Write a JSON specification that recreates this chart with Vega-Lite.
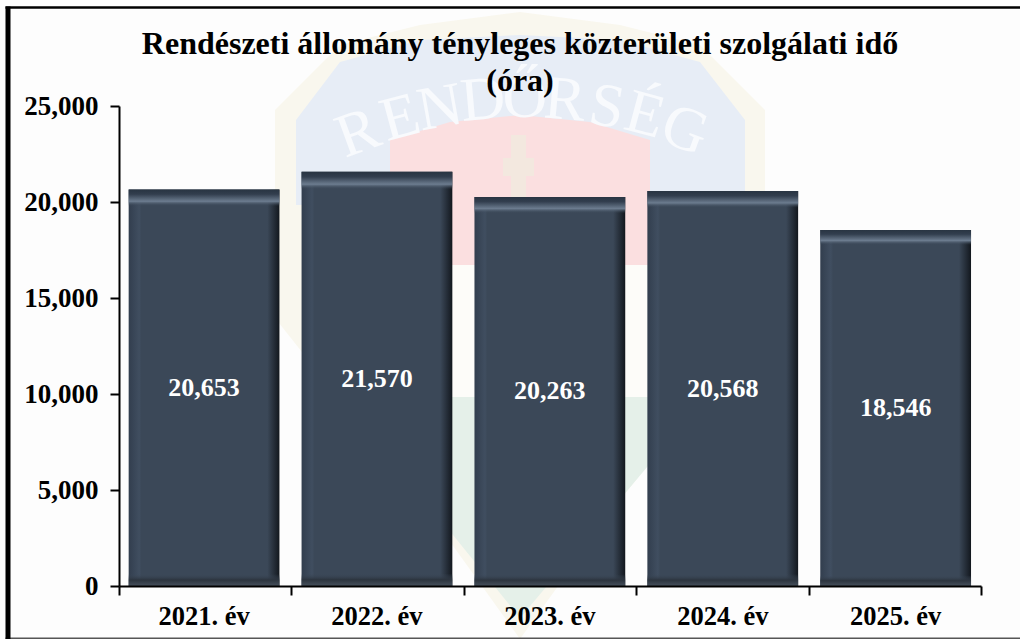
{
"$schema":"https://vega.github.io/schema/vega-lite/v6.json",
"width":1020,"height":639,
"autosize":"none","padding":0,
"background":"#fdfdfd",
"config":{"view":{"stroke":null},"font":"Liberation Serif"},
"title":{"text":["Rendészeti állomány tényleges közterületi szolgálati idő","(óra)"],"font":"Liberation Serif","fontWeight":"bold","fontSize":32,"color":"#000000","anchor":"middle","frame":"group","dx":10,"offset":-98,"lineHeight":37},
"datasets":{
"years":[{"year":"2021. év","value":20653},{"year":"2022. év","value":21570},{"year":"2023. év","value":20263},{"year":"2024. év","value":20568},{"year":"2025. év","value":18546}],
"badge":[
{"part":"perem","u":275,"t":110,"b":318},{"part":"perem","u":340,"t":45,"b":400},{"part":"perem","u":420,"t":25,"b":500},{"part":"perem","u":520,"t":12,"b":639},{"part":"perem","u":620,"t":25,"b":500},{"part":"perem","u":700,"t":45,"b":400},{"part":"perem","u":765,"t":110,"b":318},
{"part":"kek","u":296,"t":120,"b":205},{"part":"kek","u":340,"t":62,"b":205},{"part":"kek","u":420,"t":40,"b":260},{"part":"kek","u":520,"t":35,"b":260},{"part":"kek","u":620,"t":40,"b":260},{"part":"kek","u":700,"t":62,"b":205},{"part":"kek","u":745,"t":120,"b":205},
{"part":"piros","u":390,"t":140,"b":265},{"part":"piros","u":450,"t":122,"b":265},{"part":"piros","u":520,"t":115,"b":265},{"part":"piros","u":590,"t":122,"b":265},{"part":"piros","u":650,"t":140,"b":265},
{"part":"feher","u":390,"t":265,"b":397},{"part":"feher","u":650,"t":265,"b":397},
{"part":"zold","u":345,"t":397,"b":410},{"part":"zold","u":453,"t":397,"b":535},{"part":"zold","u":520,"t":397,"b":618},{"part":"zold","u":590,"t":397,"b":535},{"part":"zold","u":695,"t":397,"b":410},
{"part":"kereszt","u":503,"t":158,"b":176},{"part":"kereszt","u":511,"t":158,"b":176},{"part":"kereszt","u":511,"t":135,"b":205},{"part":"kereszt","u":526,"t":135,"b":205},{"part":"kereszt","u":526,"t":158,"b":176},{"part":"kereszt","u":534,"t":158,"b":176}
],
"letters":[{"ch":"R","u":358,"v":133,"tilt":-20},{"ch":"E","u":400,"v":118,"tilt":-15},{"ch":"N","u":440,"v":108,"tilt":-10},{"ch":"D","u":483,"v":100,"tilt":-5},{"ch":"Ő","u":525,"v":98,"tilt":0},{"ch":"R","u":565,"v":100,"tilt":5},{"ch":"S","u":607,"v":107,"tilt":10},{"ch":"É","u":645,"v":115,"tilt":15},{"ch":"G","u":685,"v":130,"tilt":20}]
},
"resolve":{"scale":{"x":"independent","y":"independent"},"axis":{"x":"independent","y":"independent"}},
"layer":[
{"layer":[
 {"data":{"name":"badge"},"mark":{"type":"area","orient":"vertical","interpolate":"linear","clip":false},
  "encoding":{"x":{"field":"u","type":"quantitative","scale":{"domain":[0,1020],"range":[0,1020]},"axis":null},
   "y":{"field":"t","type":"quantitative","stack":false,"scale":{"domain":[0,639],"range":[0,639]},"axis":null},
   "y2":{"field":"b"},
   "color":{"field":"part","type":"nominal","legend":null,"scale":{"domain":["perem","kek","piros","feher","zold","kereszt"],"range":["#f9f7ee","#e7edf6","#fbdfe0","#fdfcf9","#e5f0e9","#f3e8df"]}}}},
 {"data":{"name":"letters"},"mark":{"type":"text","font":"Liberation Serif","fontSize":62,"color":"#f8fafd","align":"center","baseline":"middle"},
  "encoding":{"x":{"field":"u","type":"quantitative","scale":{"domain":[0,1020],"range":[0,1020]},"axis":null},
   "y":{"field":"v","type":"quantitative","scale":{"domain":[0,639],"range":[0,639]},"axis":null},
   "angle":{"field":"tilt","type":"quantitative","scale":null},
   "text":{"field":"ch"}}}
]},
{"mark":{"type":"point","opacity":0},"data":{"values":[{"a":0}]},
 "encoding":{"x":{"datum":0,"type":"quantitative","scale":{"domain":[0,1],"range":[5,1020]},"axis":{"orient":"top","offset":-7,"labels":false,"ticks":false,"title":null,"grid":false,"domainColor":"#000000","domainWidth":2.5,"zindex":1}},
  "y":{"datum":0,"type":"quantitative","scale":{"domain":[0,1],"range":[639,6]},"axis":{"orient":"left","offset":-7.5,"labels":false,"ticks":false,"title":null,"grid":false,"domainColor":"#000000","domainWidth":5,"zindex":1}}}},
{"mark":{"type":"point","opacity":0},"data":{"values":[{"a":0}]},
 "encoding":{"x":{"datum":0,"type":"quantitative","scale":{"domain":[0,1],"range":[5,1020]},"axis":{"orient":"bottom","offset":-1.3,"labels":false,"ticks":false,"title":null,"grid":false,"domainColor":"#555555","domainWidth":1.5,"zindex":1}},
  "y":{"datum":0,"type":"quantitative","scale":{"domain":[0,1],"range":[639,6]},"axis":null}}},
{"mark":{"type":"point","opacity":0},"data":{"values":[{"a":0}]},
 "encoding":{"x":{"datum":0,"type":"quantitative","scale":{"domain":[0,5],"range":[119,981]},"axis":{"orient":"bottom","offset":-53,"values":[0,1,2,3,4,5],"labels":false,"domain":true,"domainColor":"#000000","domainWidth":2,"title":null,"grid":false,"tickColor":"#000000","tickWidth":2,"tickSize":9,"zindex":1}},
  "y":{"datum":0,"type":"quantitative","scale":{"domain":[0,1],"range":[639,6]},"axis":null}}},
{"data":{"name":"years"},"layer":[
 {"mark":{"type":"bar","fill":{"gradient":"linear","x1":0,"x2":1,"y1":0,"y2":0,"stops":[{"offset":0,"color":"#323e4e"},{"offset":0.07,"color":"#404e60"},{"offset":0.085,"color":"#3b4858"},{"offset":0.92,"color":"#3b4858"},{"offset":0.98,"color":"#1d242d"},{"offset":1,"color":"#12171d"}]}},
  "encoding":{"x":{"field":"year","type":"ordinal","sort":null,"scale":{"range":[117.6,982.1],"paddingInner":0.128,"paddingOuter":0.064},
    "axis":{"orient":"bottom","offset":-53,"title":null,"labelAngle":0,"labelFont":"Liberation Serif","labelFontWeight":"bold","labelFontSize":26.5,"labelColor":"#000000","labelPadding":17,"domain":false,"ticks":false,"grid":false,"zindex":1}},
   "y":{"field":"value","type":"quantitative","scale":{"domain":[0,25000],"range":[586,106],"nice":false},
    "axis":{"orient":"left","offset":-119,"title":null,"values":[0,5000,10000,15000,20000,25000],"format":",d","labelFont":"Liberation Serif","labelFontWeight":"bold","labelFontSize":27,"labelColor":"#000000","labelPadding":12,"domainColor":"#000000","domainWidth":2,"tickColor":"#000000","tickWidth":2,"tickSize":9,"grid":false,"zindex":1}}}},
 {"mark":{"type":"bar","fill":{"gradient":"linear","x1":0,"x2":0,"y1":0,"y2":1,"stops":[{"offset":0,"color":"rgba(40,52,66,1)"},{"offset":0.012,"color":"rgba(50,62,78,1)"},{"offset":0.03,"color":"rgba(108,124,143,1)"},{"offset":0.042,"color":"rgba(59,72,88,0)"},{"offset":0.97,"color":"rgba(59,72,88,0)"},{"offset":0.985,"color":"rgba(44,52,62,1)"},{"offset":1,"color":"rgba(70,80,92,1)"}]}},
  "encoding":{"x":{"field":"year","type":"ordinal","sort":null},
   "y":{"field":"value","type":"quantitative"}}}
]},
{"data":{"name":"years"},"mark":{"type":"text","font":"Liberation Serif","fontWeight":"bold","fontSize":26,"color":"#ffffff","align":"center","baseline":"middle"},
 "encoding":{"x":{"field":"year","type":"ordinal","sort":null,"scale":{"range":[117.6,982.1],"paddingInner":0.128,"paddingOuter":0.064},"axis":null},
  "y":{"field":"value","type":"quantitative","scale":{"domain":[0,50000],"range":[586,106],"nice":false},"axis":null},
  "text":{"field":"value","format":",d"}}}
]
}
